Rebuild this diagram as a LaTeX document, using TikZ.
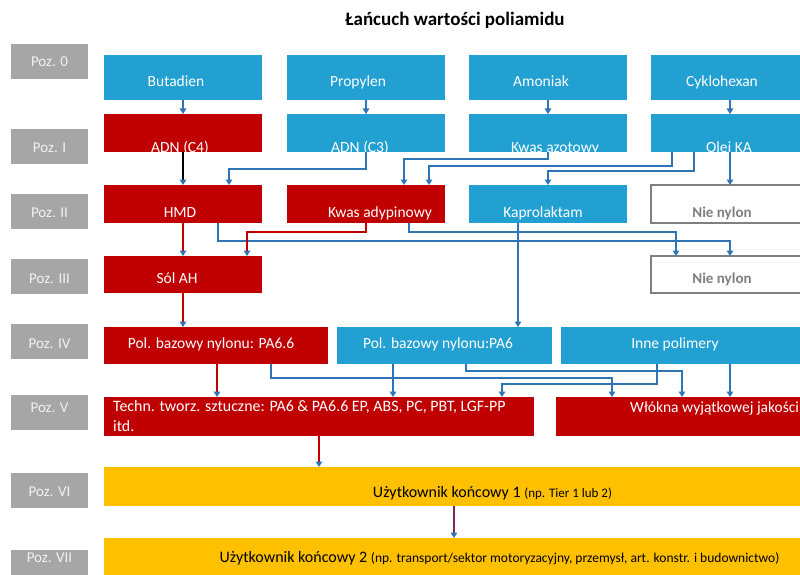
\documentclass[tikz,border=0pt]{standalone}
\usepackage{fontspec}
\setmainfont{Carlito}
\usetikzlibrary{arrows.meta}
\definecolor{niebieski}{RGB}{35,160,210}
\definecolor{czerwony}{RGB}{192,0,0}
\definecolor{zolty}{RGB}{255,192,0}
\definecolor{szary}{RGB}{166,166,166}
\definecolor{ciemnoszary}{RGB}{127,127,127}
\definecolor{jasny}{RGB}{242,242,242}
\definecolor{strzalka}{RGB}{46,117,182}
\definecolor{fiolet}{RGB}{120,40,90}
\newcommand{\pole}[6]{\node[#1, minimum width=#5, minimum height=#6] (#2) at (#3,#4) {};}
\newcommand{\napis}[5]{\node[#1] (#2) at (#3,#4) {#5};}
\newcommand{\poziom}[4]{\node[lbl] (#1) at (49.5,#2) {}; \node[lbltxt] (#1t) at (49.5,#3) {#4};}
\newcommand{\drawarrow}{\draw[arr]}
\newcommand{\drawred}{\draw[redarr]}
\tikzset{
  blok/.style={inner sep=0, outer sep=0},
  bluebox/.style={blok, fill=niebieski},
  redbox/.style={blok, fill=czerwony},
  greybox/.style={blok, draw=ciemnoszary, line width=1.2pt, fill=white},
  yellowbox/.style={blok, fill=zolty},
  lbl/.style={blok, fill=szary, minimum width=77, minimum height=35},
  txt/.style={inner sep=0, text height=13pt, text depth=3pt, font=\fontsize{15.5}{19}\selectfont},
  wt/.style={txt, text=white},
  lbltxt/.style={txt, text=jasny, font=\fontsize{15}{18}\selectfont},
  gt/.style={txt, text=ciemnoszary, font=\fontsize{15}{18}\selectfont\bfseries},
  bt/.style={txt, text=black, font=\fontsize{16}{19}\selectfont},
  arr/.style={draw=strzalka, line width=1.5pt, -{Triangle[width=6.5pt,length=5.5pt,color=strzalka]}},
  redarr/.style={arr, draw=czerwony},
  blackarr/.style={arr, draw=black},
  fioletarr/.style={arr, draw=fiolet},
}
\begin{document}
\begin{tikzpicture}[x=1pt,y=-1pt]
\useasboundingbox (0,0) rectangle (800,575);
\clip (0,0) rectangle (800,575);
\node[inner sep=0, font=\fontsize{19}{23}\selectfont\bfseries] (tytul) at (455,20) {Łańcuch wartości poliamidu};
% poziomy
\poziom{poz0}{61.5}{62}{Poz. 0}
\poziom{poz1}{146.5}{147}{Poz. I}
\poziom{poz2}{211}{212}{Poz. II}
\poziom{poz3}{276.5}{278}{Poz. III}
\poziom{poz4}{341.5}{343}{Poz. IV}
\poziom{poz5}{412.5}{407}{Poz. V}
\poziom{poz6}{490.5}{491}{Poz. VI}
\poziom{poz7}{567.5}{557}{Poz. VII}
% poz. 0
\pole{bluebox}{butadien}{183}{77.5}{158}{45}
\pole{bluebox}{propylen}{366}{77.5}{158}{45}
\pole{bluebox}{amoniak}{548}{77.5}{158}{45}
\pole{bluebox}{cyklohexan}{730}{77.5}{158}{45}
\napis{wt}{butadient}{176}{82}{Butadien}
\napis{wt}{propylent}{358}{82}{Propylen}
\napis{wt}{amoniakt}{541}{82}{Amoniak}
\napis{wt}{cyklohexant}{722}{82}{Cyklohexan}
% poz. I
\pole{redbox}{adnc4}{183}{133}{158}{38}
\pole{bluebox}{adnc3}{366}{133}{158}{38}
\pole{bluebox}{kwasazot}{548}{133}{158}{38}
\pole{bluebox}{olejka}{730}{133}{158}{38}
\napis{wt}{adnc4t}{180}{147}{ADN (C4)}
\napis{wt}{adnc3t}{360}{147}{ADN (C3)}
\napis{wt}{kwasazott}{555}{147}{Kwas azotowy}
\napis{wt}{olejkat}{729}{147}{Olej KA}
% poz. II
\pole{redbox}{hmd}{183}{204}{158}{38}
\pole{redbox}{adypin}{366}{204}{158}{38}
\pole{bluebox}{kaprol}{548}{204}{158}{38}
\pole{greybox}{nienylonA}{730}{204}{158}{38}
\napis{wt}{hmdt}{180}{212}{HMD}
\napis{wt}{adypint}{380}{212}{Kwas adypinowy}
\napis{wt}{kaprolt}{543}{212}{Kaprolaktam}
\napis{gt}{nienylonAt}{722}{212}{Nie nylon}
% poz. III
\pole{redbox}{solah}{183}{274.5}{158}{37}
\pole{greybox}{nienylonB}{730}{274.5}{158}{37}
\napis{wt}{solaht}{177}{278}{Sól AH}
\napis{gt}{nienylonBt}{722}{278}{Nie nylon}
% poz. IV
\pole{redbox}{pa66}{216}{345.5}{224}{37}
\pole{bluebox}{pa6}{444.5}{345.5}{215}{37}
\pole{bluebox}{inne}{685}{345.5}{248}{37}
\napis{wt}{pa66t}{211}{343}{Pol. bazowy nylonu: PA6.6}
\napis{wt}{pa6t}{438}{343}{Pol. bazowy nylonu:PA6}
\napis{wt}{innet}{675}{343}{Inne polimery}
% poz. V
\pole{redbox}{techn}{319}{416.5}{430}{39}
\pole{redbox}{wlokna}{713}{416.5}{314}{39}
\node[inner sep=0, anchor=north west, align=left, text=white, font=\fontsize{15.9}{20}\selectfont] (technt) at (113,400) {Techn. tworz. sztuczne: PA6 \& PA6.6 EP, ABS, PC, PBT, LGF-PP\\itd.};
\node[wt, anchor=west] (wloknat) at (630,407) {Włókna wyjątkowej jakości};
% poz. VI i VII
\pole{yellowbox}{uzytk1}{492}{486.5}{776}{39}
\pole{yellowbox}{uzytk2}{500}{561.5}{792}{47}
\napis{bt}{uzytk1t}{492.5}{492}{Użytkownik końcowy 1 {\fontsize{13}{16}\selectfont(np. Tier 1 lub 2)}}
\napis{bt}{uzytk2t}{499.5}{557}{Użytkownik końcowy 2 {\fontsize{13.5}{16}\selectfont(np. transport/sektor motoryzacyjny, przemysł, art. konstr. i budownictwo)}}
% strzalki
\drawarrow (butadien.south) -- (adnc4.north);
\drawarrow (propylen.south) -- (adnc3.north);
\drawarrow (amoniak.south) -- (kwasazot.north);
\drawarrow (cyklohexan.south) -- (olejka.north);
\draw[blackarr] (adnc4.south) -- (hmd.north);
\drawarrow (adnc3.south) -- ++(0,17) -| ([xshift=46]hmd.north);
\drawarrow (kwasazot.south) -- ++(0,7) -| ([xshift=38]adypin.north);
\drawarrow ([xshift=-58]olejka.south) -- ++(0,14) -| ([xshift=63]adypin.north);
\drawarrow ([xshift=-36]olejka.south) -- ++(0,19) -| (kaprol.north);
\drawarrow (olejka.south) -- (nienylonA.north);
\drawred (hmd.south) -- (solah.north);
\drawarrow ([xshift=35]hmd.south) -- ++(0,18) -| (nienylonB.north);
\drawred (adypin.south) -- ++(0,9) -| ([xshift=64]solah.north);
\drawarrow ([xshift=43]adypin.south) -- ++(0,9) -| ([xshift=-54]nienylonB.north);
\drawarrow ([xshift=-30]kaprol.south) -- ([xshift=73.5]pa6.north);
\drawred (solah.south) -- ([xshift=-33]pa66.north);
\drawred ([xshift=1]pa66.south) -- ([xshift=-102]techn.north);
\drawarrow ([xshift=55]pa66.south) -- ++(0,14) -| ([xshift=-101]wlokna.north);
\drawarrow ([xshift=-51.5]pa6.south) -- ([xshift=74]techn.north);
\drawarrow ([xshift=21.5]pa6.south) -- ++(0,7) -| ([xshift=-31]wlokna.north);
\drawarrow ([xshift=-28]inne.south) -- ++(0,20) -| ([xshift=183]techn.north);
\drawarrow ([xshift=45]inne.south) -- ([xshift=17]wlokna.north);
\drawred (techn.south) -- ([xshift=-173]uzytk1.north);
\draw[fioletarr] ([xshift=-38]uzytk1.south) -- ([xshift=-46]uzytk2.north);
\end{tikzpicture}
\end{document}
